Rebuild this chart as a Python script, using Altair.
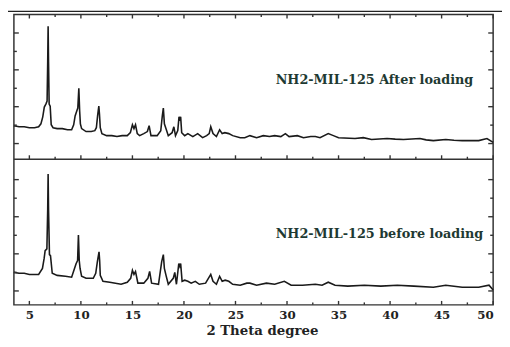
import altair as alt
import pandas as pd

# ---------------- data ----------------
two_theta_after = [3.5, 4.0, 4.5, 5.0, 5.5, 5.9, 6.12, 6.3, 6.45, 6.6, 6.72, 6.78, 6.82, 6.86, 6.92,
                   7.02, 7.12, 7.3, 7.7, 8.2, 8.7, 9.1, 9.3, 9.44, 9.6, 9.7, 9.8, 9.88, 9.95, 10.07,
                   10.5, 11.0, 11.35, 11.5, 11.62, 11.74, 11.8, 11.88, 12.04, 12.5, 13.0, 13.5, 14.0,
                   14.5, 14.8, 15.0, 15.15, 15.3, 15.47, 15.7, 16.1, 16.45, 16.62, 16.8, 17.1, 17.4,
                   17.75, 17.9, 18.0, 18.1, 18.26, 18.48, 18.85, 19.02, 19.18, 19.4, 19.52, 19.6,
                   19.68, 19.78, 20.07, 20.38, 20.86, 21.33, 21.81, 22.2, 22.45, 22.6, 22.82, 23.15,
                   23.46, 23.71, 23.97, 24.35, 24.73, 25.46, 25.9, 26.4, 27.05, 27.7, 28.3, 28.8,
                   29.4, 29.84, 30.2, 31.0, 31.6, 32.3, 32.75, 33.2, 34.0, 34.5, 35.0, 36.6, 37.4,
                   38.2, 39.7, 40.5, 41.3, 42.9, 43.5, 44.2, 45.4, 46.2, 47.0, 48.6, 49.4, 50.0]
intensity_after = [197, 191, 191, 186, 186, 191, 207, 245, 298, 314, 330, 544, 736, 544, 314,
                   303, 202, 186, 181, 181, 175, 175, 202, 250, 277, 293, 400, 277, 207, 181,
                   165, 165, 170, 186, 250, 303, 261, 186, 154, 143, 143, 138, 143,
                   143, 159, 202, 181, 202, 154, 143, 154, 165, 197, 143, 143, 143,
                   170, 250, 293, 207, 181, 143, 159, 191, 143, 170, 245, 234,
                   245, 159, 143, 154, 138, 154, 132, 143, 154, 191, 154, 138,
                   175, 154, 159, 154, 143, 132, 132, 143, 132, 143, 138, 143,
                   138, 154, 138, 143, 132, 138, 138, 132, 154, 143, 132, 127, 132,
                   122, 127, 124, 122, 127, 120, 116, 122, 118, 116, 116, 127, 106]

two_theta_before = [3.5, 4.0, 4.5, 5.0, 5.5, 5.9, 6.27, 6.43, 6.53, 6.7, 6.78, 6.82, 6.86, 6.95,
                    7.05, 7.22, 7.7, 8.5, 9.1, 9.38, 9.54, 9.68, 9.76, 9.84, 9.92, 10.07, 10.5,
                    11.2, 11.44, 11.6, 11.76, 11.82, 11.88, 12.14, 12.8, 13.9, 14.5, 14.83, 15.0,
                    15.15, 15.3, 15.53, 16.1, 16.5, 16.67, 16.86, 17.53, 17.84, 18.0, 18.1, 18.26,
                    18.48, 18.96, 19.11, 19.27, 19.5, 19.6, 19.68, 19.82, 20.07, 20.38, 20.7,
                    21.1, 21.49, 22.1, 22.6, 22.82, 23.15, 23.46, 23.71, 24.0, 24.35, 24.73,
                    25.46, 26.1, 26.4, 27.05, 28.0, 28.8, 29.74, 30.4, 31.5, 32.75, 33.4, 34.0,
                    34.66, 35.9, 37.5, 39.1, 40.7, 42.3, 44.2, 45.4, 47.0, 48.6, 49.6, 50.0]
intensity_before = [190, 185, 185, 179, 179, 179, 211, 264, 307, 317, 530, 720, 530, 286,
                    280, 185, 174, 169, 164, 211, 238, 254, 392, 254, 211, 169, 158,
                    158, 185, 248, 301, 254, 174, 142, 137, 126, 137, 158, 201,
                    179, 195, 132, 132, 158, 195, 132, 126, 248, 286, 211, 174,
                    126, 158, 190, 126, 238, 222, 238, 142, 148, 142, 132,
                    142, 126, 132, 179, 142, 126, 169, 142, 148, 142, 126,
                    121, 132, 132, 121, 132, 126, 142, 121, 121, 126, 121, 137,
                    121, 116, 121, 116, 121, 116, 110, 121, 110, 110, 121, 95]

x_major = [5, 10, 15, 20, 25, 30, 35, 40, 45, 50]
x_minor = [7.5, 12.5, 17.5, 22.5, 27.5, 32.5, 37.5, 42.5, 47.5]
y_major_after = [100, 300, 500, 700]
y_minor_after = [200, 400, 600]
y_major_before = [90, 290, 490, 690]
y_minor_before = [190, 390, 590]

label_after = "NH2-MIL-125 After loading"
label_before = "NH2-MIL-125 before loading"
x_title = "2 Theta degree"

# ---------------- layout / style ----------------
W = 487
H = 295          # both panels together
MID = 147        # panel divider (pixels from the top of the plot)
X_DOMAIN = [3.5, 50]
Y_DOMAIN = [15, 800]
LINE_COL = "#1a1a1a"
FRAME_COL = "#333333"
TEXT_COL = "#1e3932"
SERIF = "DejaVu Serif"

xs = alt.Scale(domain=X_DOMAIN, nice=False, zero=False)
ys_top = alt.Scale(domain=Y_DOMAIN, range=[MID, 0], nice=False, zero=False)
ys_bot = alt.Scale(domain=Y_DOMAIN, range=[H, MID], nice=False, zero=False)

x_axis = alt.Axis(values=x_major, ticks=False, tickSize=0, domain=False, grid=False,
                  labelFont=SERIF, labelFontWeight="bold", labelFontSize=12,
                  labelColor="#222222", labelPadding=5,
                  titleFont=SERIF, titleFontWeight="bold", titleFontSize=13.5,
                  titleColor="#222222", titlePadding=3, titleX=252, titleAlign="center")


def X(field):
    return alt.X(field, scale=xs, axis=x_axis, title=x_title)


def curve(tt, inten, ys):
    df = pd.DataFrame({"tt": tt, "I": inten})
    return alt.Chart(df).mark_line(color=LINE_COL, strokeWidth=1.6).encode(
        x=X("tt:Q"), y=alt.Y("I:Q", scale=ys, axis=None))


def xticks(vals, y0, y1):
    return alt.Chart(pd.DataFrame({"v": vals})).mark_rule(
        color=FRAME_COL, strokeWidth=1.4).encode(
        x=X("v:Q"), y=alt.value(y0), y2=alt.value(y1))


def yticks(vals, ys, x0, x1):
    return alt.Chart(pd.DataFrame({"v": vals})).mark_rule(
        color=FRAME_COL, strokeWidth=1.4).encode(
        y=alt.Y("v:Q", scale=ys, axis=None), x=alt.value(x0), x2=alt.value(x1))


def label(text, y):
    return alt.Chart(pd.DataFrame({"t": [text]})).mark_text(
        align="left", baseline="middle", font=SERIF, fontWeight="bold", fontSize=13,
        color=TEXT_COL).encode(text="t:N", x=alt.value(266), y=alt.value(y))


divider = alt.Chart(pd.DataFrame({"a": [0]})).mark_rule(
    color=FRAME_COL, strokeWidth=1.5).encode(
    x=alt.value(0), x2=alt.value(W), y=alt.value(MID))
top_border = alt.Chart(pd.DataFrame({"a": [0]})).mark_rule(
    color="#222222", strokeWidth=1.5).encode(
    x=alt.value(-6), x2=alt.value(496), y=alt.value(-3.25))

layers = [
    curve(two_theta_after, intensity_after, ys_top),
    curve(two_theta_before, intensity_before, ys_bot),
    divider, top_border,
    # x ticks: top edge (down), divider (up), bottom edge (up)
    xticks(x_major, 0, 4), xticks(x_minor, 0, 2.5),
    xticks(x_major, MID, MID - 4), xticks(x_minor, MID, MID - 2.5),
    xticks(x_major, H, H - 4), xticks(x_minor, H, H - 2.5),
    # y ticks, left and right, both panels
    yticks(y_major_after, ys_top, 0, 5), yticks(y_minor_after, ys_top, 0, 3),
    yticks(y_major_after, ys_top, W, W - 5), yticks(y_minor_after, ys_top, W, W - 3),
    yticks(y_major_before, ys_bot, 0, 5), yticks(y_minor_before, ys_bot, 0, 3),
    yticks(y_major_before, ys_bot, W, W - 5), yticks(y_minor_before, ys_bot, W, W - 3),
    label(label_after, 67), label(label_before, 223),
]

chart = alt.layer(*layers).resolve_scale(y="independent").properties(
    width=W, height=H,
    autosize=alt.AutoSizeParams(type="none"),
    padding={"left": 6, "top": 4, "right": 9, "bottom": 31},
).configure_view(stroke=FRAME_COL, strokeWidth=1.5)

chart.save("out.html", embed_options={"renderer": "svg", "actions": False})
